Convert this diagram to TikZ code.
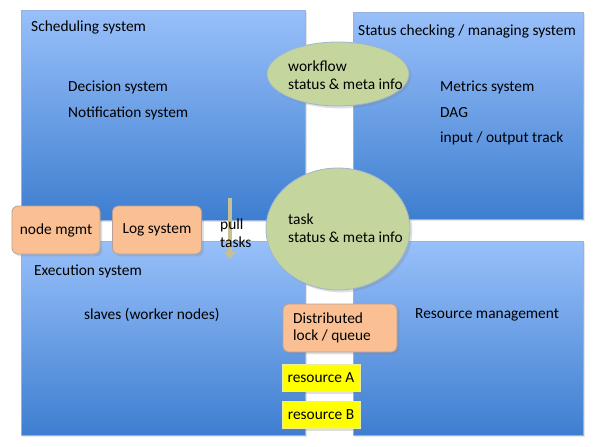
\documentclass[tikz,border=0pt]{standalone}
\usepackage{fontspec}
\setmainfont{Carlito}
\usetikzlibrary{shapes.geometric,shadows,arrows.meta}
\definecolor{skyblue}{RGB}{152,192,250}
\definecolor{deepblue}{RGB}{62,126,208}
\definecolor{paleedge}{RGB}{150,178,220}
\definecolor{sage}{RGB}{196,214,158}
\definecolor{sageedge}{RGB}{160,180,205}
\definecolor{peach}{RGB}{250,192,148}
\definecolor{peachedge}{RGB}{185,160,150}
\definecolor{lemon}{RGB}{255,255,0}
\definecolor{khaki}{RGB}{198,192,148}

\tikzset{
  txt/.style={anchor=west, inner sep=0pt, align=left, font=\fontsize{15.4}{17.5}\selectfont},
  blob/.style={ellipse, draw=sageedge, fill=sage, thick, inner sep=0pt, drop shadow={opacity=0.25}},
  part/.style={rounded corners=6pt, draw=peachedge, fill=peach, thick, align=left,
               font=\fontsize{15.4}{17.5}\selectfont, drop shadow={opacity=0.25}},
  res/.style={draw=lemon!80!black!40, fill=lemon, minimum width=78pt, minimum height=27pt,
              inner sep=0pt, font=\fontsize{15.4}{17}\selectfont, drop shadow={opacity=0.25}},
}

\begin{document}
\begin{tikzpicture}[x=1pt, y=-1pt]
            \useasboundingbox (0,0) rectangle (598,447);
            % four quadrants
            \shade[top color=skyblue, bottom color=deepblue, draw=paleedge, drop shadow={opacity=0.2}] ( 21, 10) rectangle (305,220);
            \shade[top color=skyblue, bottom color=deepblue, draw=paleedge, drop shadow={opacity=0.2}] (353, 12) rectangle (583,219);
            \shade[top color=skyblue, bottom color=deepblue, draw=paleedge, drop shadow={opacity=0.2}] ( 21,241) rectangle (305,435);
            \shade[top color=skyblue, bottom color=deepblue, draw=paleedge, drop shadow={opacity=0.2}] (353,241) rectangle (583,435);

            \node[txt] (sched)    at ( 31, 27) {Scheduling system};
            \node[txt] (decision) at ( 68, 87) {Decision system};
            \node[txt] (notify)   at ( 68,113) {Notification system};
            \node[txt] (status)   at (358, 31) {Status checking / managing system};
            \node[txt] (metrics)  at (440, 87) {Metrics system};
            \node[txt] (dag)      at (440,113) {DAG};
            \node[txt] (iotrack)  at (440,138) {input / output track};
            \node[txt] (exec)     at ( 34,271) {Execution system};
            \node[txt] (slaves)   at ( 84,315) {slaves (worker nodes)};
            \node[txt] (resmgmt)  at (415,315) {Resource management};

            % shared status stores
            \node[blob, minimum width=142pt, minimum height=64pt]  (workflow) at (338, 74) {};
            \node[blob, minimum width=144pt, minimum height=122pt] (task)     at (338,229) {};
            \node[txt] (workflowinfo) at (288, 75) {workflow\\status \& meta info};
            \node[txt] (taskinfo)     at (288,228) {task\\status \& meta info};

            \node[part, minimum width=88pt, minimum height=48pt]  (nodemgmt) at ( 56,230) {node mgmt};
            \node[part, minimum width=89pt, minimum height=48pt]  (logsys)   at (157,230) {Log system};
            \node[part, minimum width=114pt, minimum height=48pt] (lock)     at (340,328) {};
            \node[txt] (lockinfo) at (293,328) {Distributed\\lock / queue};

            \node[res] (resA) at (321,378) {resource A};
            \node[res] (resB) at (321,415) {resource B};

            % pull arrow
            \coordinate (pulltop) at (230,198);
            \coordinate (pullend) at (230,259);
            \draw[line width=4pt, khaki, -{Triangle[width=11pt, length=7pt]}] (pulltop) -- (pullend);
            \node[txt] (pull) at (220,233) {pull\\tasks};
\end{tikzpicture}
\end{document}
